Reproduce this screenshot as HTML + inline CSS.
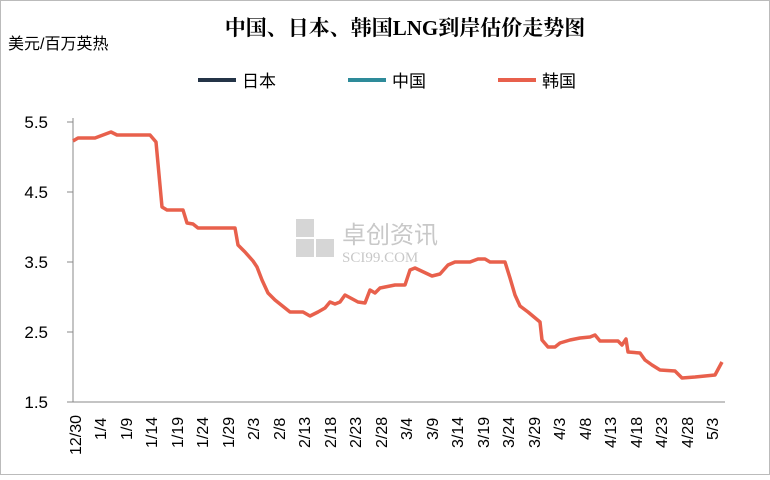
<!DOCTYPE html>
<html><head><meta charset="utf-8"><style>
body{margin:0;width:770px;height:475px;background:#fff;overflow:hidden}
</style></head><body>
<svg width="770" height="475" xmlns="http://www.w3.org/2000/svg" font-family="Liberation Sans, Noto Sans CJK SC, sans-serif">
<rect x="0.5" y="0.5" width="769" height="474" fill="#fff" stroke="#bbb"/>
<text x="405" y="35" font-size="21" font-weight="bold" text-anchor="middle" font-family="Liberation Serif, Noto Serif CJK SC, serif" fill="#000">中国、日本、韩国LNG到岸估价走势图</text>
<text x="8" y="49" font-size="16" fill="#000">美元/百万英热</text>
<line x1="198" y1="80" x2="236" y2="80" stroke="#243447" stroke-width="4"/>
<text x="242" y="87" font-size="17">日本</text>
<line x1="348" y1="80" x2="386" y2="80" stroke="#2e8b9a" stroke-width="4"/>
<text x="392" y="87" font-size="17">中国</text>
<line x1="498" y1="80" x2="536" y2="80" stroke="#e8604c" stroke-width="4"/>
<text x="542" y="87" font-size="17">韩国</text>
<g font-size="17" text-anchor="end" fill="#000">
<text x="48" y="128">5.5</text><text x="48" y="198">4.5</text><text x="48" y="268">3.5</text><text x="48" y="338">2.5</text><text x="48" y="408">1.5</text>
</g>
<g stroke="#888" stroke-width="1">
<line x1="73" y1="118" x2="73" y2="402"/>
<line x1="73" y1="402" x2="725" y2="402"/>
<line x1="67" y1="122" x2="73" y2="122"/><line x1="67" y1="192" x2="73" y2="192"/><line x1="67" y1="262" x2="73" y2="262"/><line x1="67" y1="332" x2="73" y2="332"/><line x1="67" y1="402" x2="73" y2="402"/>
</g>
<g fill="#ccc" opacity="0.8">
<rect x="296" y="219" width="18" height="18"/><rect x="296" y="239" width="18" height="18"/><rect x="316" y="239" width="18" height="18"/>
<text x="342" y="243" font-size="24" fill="#bbb">卓创资讯</text>
<text x="342" y="262" font-size="15" fill="#bbb" font-family="Liberation Serif, serif">SCI99.COM</text>
</g>
<polyline fill="none" stroke="#e8604c" stroke-width="3.5" stroke-linejoin="round" points="73,141 78,138 95,138 103,135 111,132 117,135 150,135 156,142 162,207 167,210 183,210 187,223 193,224 198,228 235,228 238,245 245,252 253,261 257,267 262,280 268,293 275,300 290,312 303,312 310,316 318,312 325,308 330,302 335,304 340,302 345,295 358,302 365,303 370,290 375,293 380,288 395,285 405,285 410,270 415,268 432,276 440,274 448,265 455,262 470,262 478,259 485,259 490,262 505,262 510,278 515,295 520,306 528,312 540,322 542,340 548,347 555,347 560,343 570,340 580,338 590,337 595,335 600,341 618,341 622,345 626,339 628,352 640,353 645,360 652,365 660,370 675,371 682,378 695,377 715,375 722,362"/>
<g font-size="16" fill="#000">
<text transform="translate(81,455) rotate(-90)">12/30</text>
<text transform="translate(106,440) rotate(-90)">1/4</text>
<text transform="translate(132,440) rotate(-90)">1/9</text>
<text transform="translate(157,448) rotate(-90)">1/14</text>
<text transform="translate(183,448) rotate(-90)">1/19</text>
<text transform="translate(208,448) rotate(-90)">1/24</text>
<text transform="translate(234,448) rotate(-90)">1/29</text>
<text transform="translate(259,440) rotate(-90)">2/3</text>
<text transform="translate(285,440) rotate(-90)">2/8</text>
<text transform="translate(310,448) rotate(-90)">2/13</text>
<text transform="translate(336,448) rotate(-90)">2/18</text>
<text transform="translate(361,448) rotate(-90)">2/23</text>
<text transform="translate(387,448) rotate(-90)">2/28</text>
<text transform="translate(412,440) rotate(-90)">3/4</text>
<text transform="translate(438,440) rotate(-90)">3/9</text>
<text transform="translate(463,448) rotate(-90)">3/14</text>
<text transform="translate(489,448) rotate(-90)">3/19</text>
<text transform="translate(514,448) rotate(-90)">3/24</text>
<text transform="translate(540,448) rotate(-90)">3/29</text>
<text transform="translate(565,440) rotate(-90)">4/3</text>
<text transform="translate(591,440) rotate(-90)">4/8</text>
<text transform="translate(616,448) rotate(-90)">4/13</text>
<text transform="translate(642,448) rotate(-90)">4/18</text>
<text transform="translate(667,448) rotate(-90)">4/23</text>
<text transform="translate(693,448) rotate(-90)">4/28</text>
<text transform="translate(718,440) rotate(-90)">5/3</text>
</g>
</svg>
</body></html>
